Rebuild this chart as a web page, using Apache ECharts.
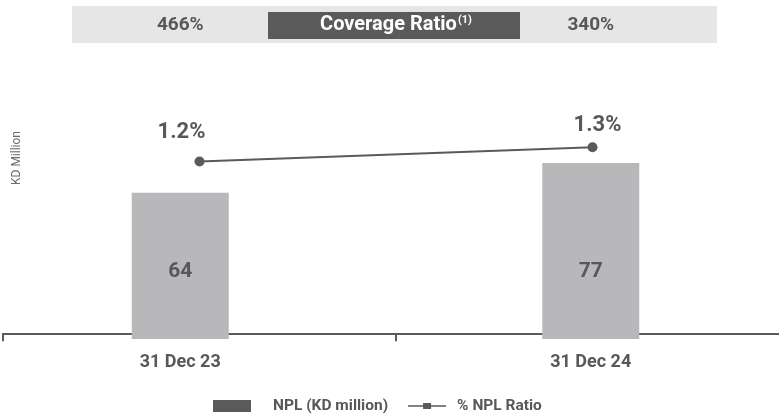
<!DOCTYPE html>
<html>
<head>
<meta charset="utf-8">
<script src="https://cdn.jsdelivr.net/npm/echarts@6/dist/echarts.min.js"></script>
<style>
  html, body { margin: 0; padding: 0; background: #ffffff; }
  #chart { width: 779px; height: 414px; }
</style>
</head>
<body>
<div id="chart"></div>
<script>
// NPL amounts (KD million) and NPL ratio (%) at each reporting date
const categories = ['31 Dec 23', '31 Dec 24'];
const nplValues = [64, 77];
const nplRatio = [1.2, 1.3];
const coverageRatio = ['466%', '340%'];
const seriesNames = ['NPL (KD million)', '% NPL Ratio'];

const FONT = 'Roboto, "Noto Sans", sans-serif';
const DARK = '#5a5a5b';
const TEXT = '#58585a';
const BAR = '#b8b8bb';

// per-point label nudges for the ratio labels
const ratioLabelOffsets = [[-18, -8], [5, -1]];

const chart = echarts.init(document.getElementById('chart'), null, { renderer: 'canvas' });

const option = {
  animation: false,
  textStyle: { fontFamily: FONT },
  grid: [
    // axis line + ratio line
    { left: 3, width: 786, top: 60, bottom: 75, outerBoundsMode: 'none', containLabel: false },
    // bars
    { left: -25, width: 821, top: 60, bottom: 75, outerBoundsMode: 'none', containLabel: false }
  ],
  xAxis: [
    {
      type: 'category', gridIndex: 0, data: categories, boundaryGap: true,
      axisLine: { lineStyle: { color: DARK, width: 2 } },
      axisTick: { show: true, length: 8, lineStyle: { color: DARK, width: 2 } },
      axisLabel: { show: false }
    },
    {
      type: 'category', gridIndex: 1, data: categories, boundaryGap: true,
      axisLine: { show: false }, axisTick: { show: false },
      axisLabel: { color: TEXT, fontSize: 18, fontWeight: 'bold', margin: 14, fontFamily: FONT }
    }
  ],
  yAxis: [
    { type: 'value', gridIndex: 0, min: -0.04, max: 1.91, show: false },
    { type: 'value', gridIndex: 1, min: 0, max: 122, show: false }
  ],
  legend: {
    left: 213, top: 398, padding: 0,
    itemWidth: 38, itemHeight: 12, itemGap: 20,
    selectedMode: false,
    textStyle: { color: TEXT, fontSize: 15.5, fontWeight: 'bold', fontFamily: FONT, padding: [0, 0, 0, 17] },
    data: [
      { name: seriesNames[0], icon: 'rect', itemStyle: { color: DARK } },
      { name: seriesNames[1], icon: 'path://M0,2.2h38v1.6h-38z M15,0h8v6h-8z', itemStyle: { color: DARK },
        textStyle: { padding: [0, 0, 0, 6] } }
    ]
  },
  series: [
    {
      name: seriesNames[0], type: 'bar', xAxisIndex: 1, yAxisIndex: 1,
      data: nplValues, barWidth: 97,
      itemStyle: { color: BAR },
      label: {
        show: true, position: 'insideBottom', distance: 57,
        color: TEXT, fontSize: 21, fontWeight: 'bold', fontFamily: FONT
      },
      z: 1
    },
    {
      name: seriesNames[1], type: 'line', xAxisIndex: 0, yAxisIndex: 0,
      data: nplRatio.map((v, i) => ({
        value: v,
        label: { offset: ratioLabelOffsets[i] }
      })),
      symbol: 'circle', symbolSize: 10,
      lineStyle: { color: DARK, width: 2 },
      itemStyle: { color: DARK },
      label: {
        show: true, position: 'top', distance: 5,
        formatter: p => p.value.toFixed(1) + '%',
        color: TEXT, fontSize: 22, fontWeight: 'bold', fontFamily: FONT
      },
      z: 3
    }
  ]
};

chart.setOption(option);

// Coverage ratio banner, values placed over each date's bar
const xs = categories.map(c => chart.convertToPixel({ xAxisIndex: 1 }, c));
chart.setOption({
  graphic: [
    { type: 'rect', left: 72, top: 6, shape: { width: 645, height: 37 }, style: { fill: '#e6e6e6' }, z: 0 },
    { type: 'rect', left: 268, top: 12, shape: { width: 252, height: 27 }, style: { fill: DARK }, z: 1 },
    {
      type: 'text', x: 396, y: 25, z: 2,
      style: {
        text: '{a|Coverage Ratio}{s|(1)}',
        align: 'center', verticalAlign: 'middle',
        rich: {
          a: { fill: '#ffffff', fontSize: 20, fontWeight: 'bold', fontFamily: FONT },
          s: { fill: '#ffffff', fontSize: 11, fontWeight: 'bold', fontFamily: FONT, verticalAlign: 'top', padding: [0, 0, 9, 1] }
        }
      }
    },
    ...coverageRatio.map((t, i) => ({
      type: 'text', x: xs[i], y: 25, z: 2,
      style: { text: t, align: 'center', verticalAlign: 'middle', fill: TEXT, fontSize: 19, fontWeight: 'bold', fontFamily: FONT }
    })),
    {
      type: 'text', x: 17, y: 158, rotation: Math.PI / 2, z: 2,
      style: { text: 'KD Million', align: 'center', verticalAlign: 'middle', fill: '#6a6a6a', fontSize: 12, fontFamily: FONT }
    }
  ]
});
</script>
</body>
</html>
